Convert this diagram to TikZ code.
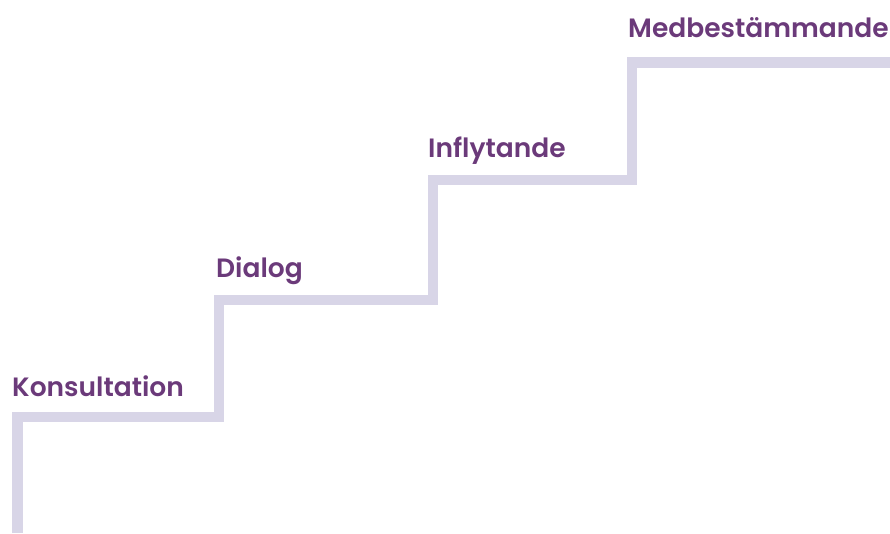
\documentclass[tikz,border=0pt]{standalone}
\usepackage{fontspec}
\setmainfont{Poppins}[BoldFont=* SemiBold]
\definecolor{stair}{HTML}{D8D5E7}
\definecolor{label}{HTML}{6B3A7A}
\begin{document}
\begin{tikzpicture}[x=1pt,y=1pt,
  lbl/.style={anchor=base west,inner sep=0pt,text=label,font=\fontsize{26.5}{30}\selectfont\bfseries}]
\useasboundingbox (0,0) rectangle (890,533);
\coordinate (s0) at (17.5,0);
\coordinate (c1) at (17.5,116);
\coordinate (c2) at (219,116);
\coordinate (c3) at (219,233);
\coordinate (c4) at (433,233);
\coordinate (c5) at (433,353);
\coordinate (c6) at (632,353);
\coordinate (c7) at (632,470.5);
\coordinate (e) at (890,470.5);
\draw[stair,line width=10.5pt] (s0) -- (c1) -- (c2) -- (c3) -- (c4) -- (c5) -- (c6) -- (c7) -- (e);
\node[lbl] (k) at (12,137) {Konsultation};
\node[lbl] (d) at (216,255) {Dialog};
\node[lbl] (i) at (428,375) {Inflytande};
\node[lbl] (m) at (628,495) {Medbestämmande};
\end{tikzpicture}
\end{document}
